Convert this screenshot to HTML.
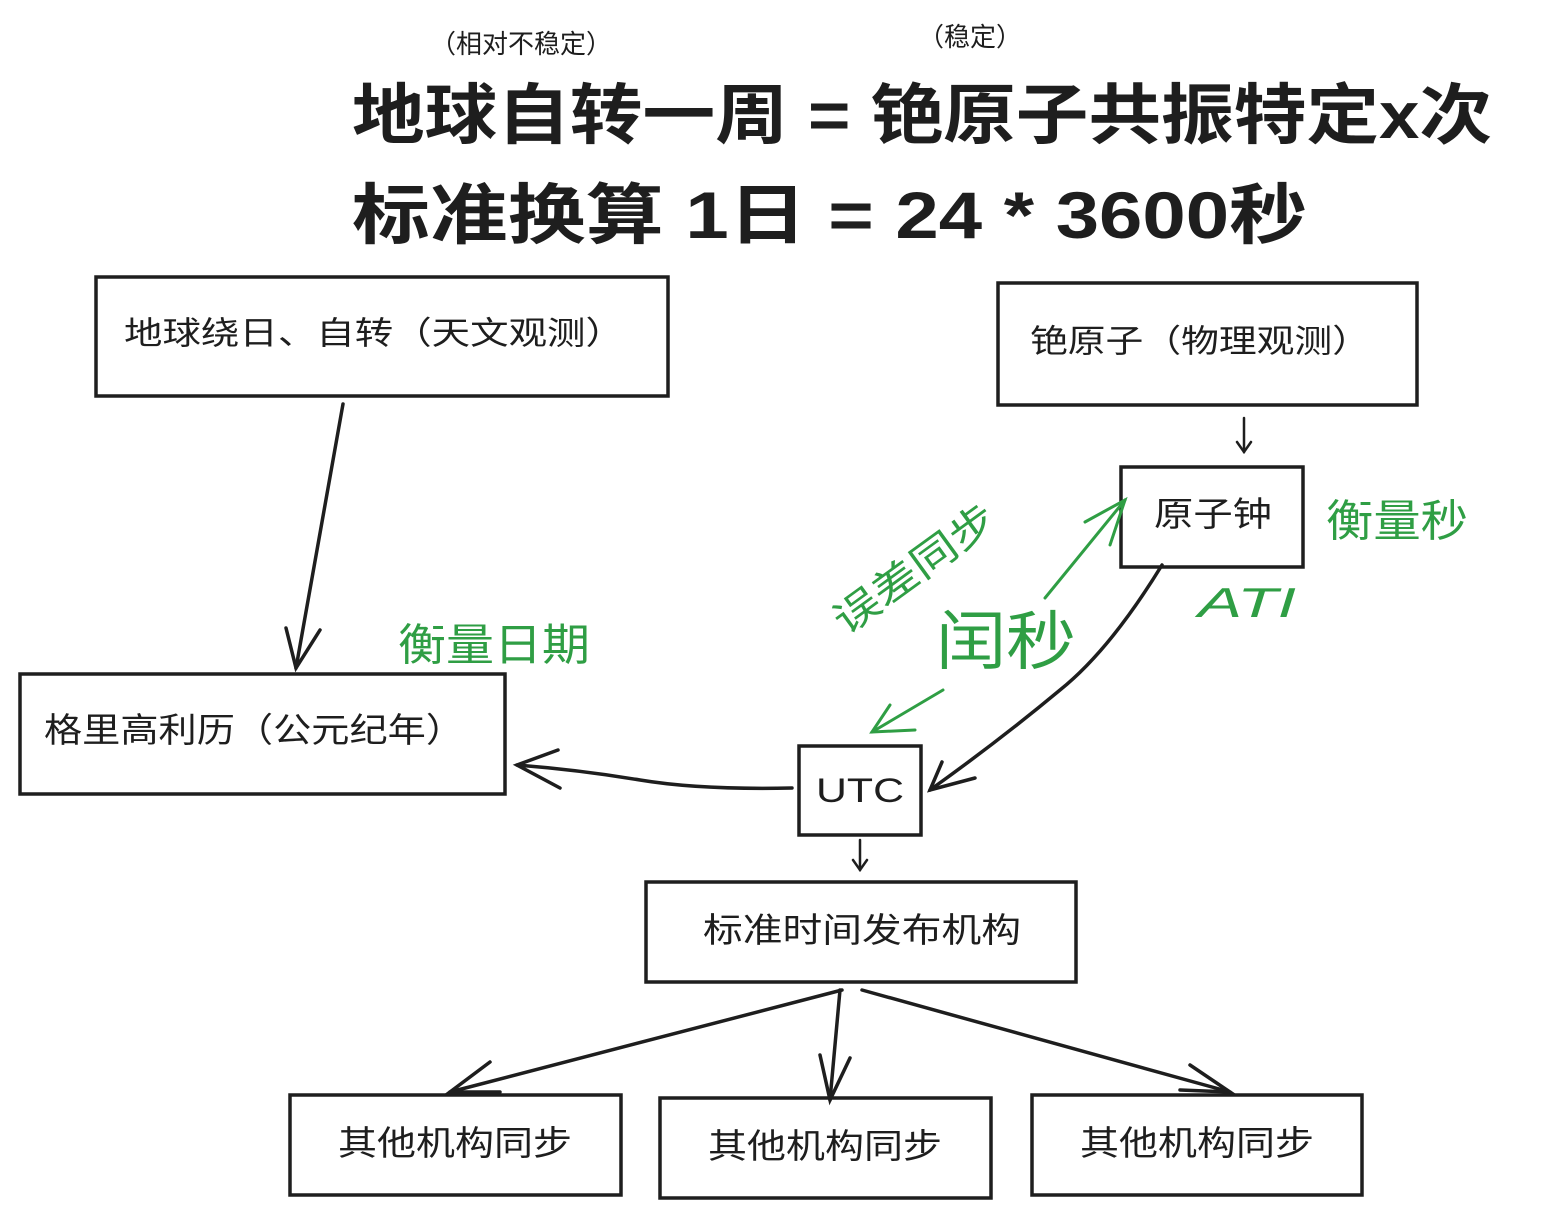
<!DOCTYPE html>
<html><head><meta charset="utf-8"><style>
html,body{margin:0;padding:0;background:#fff;}
svg{display:block;}
text{font-family:"Liberation Sans","Noto Sans CJK SC",sans-serif;}
</style></head><body>
<svg width="1544" height="1218" viewBox="0 0 1544 1218" xmlns="http://www.w3.org/2000/svg">
<g fill="none" stroke="#1e1e1e" stroke-width="3.5">
<rect x="96" y="277" width="572" height="119"/>
<rect x="998" y="283" width="419" height="122"/>
<rect x="1121" y="467" width="182" height="100"/>
<rect x="20" y="674" width="485" height="120"/>
<rect x="799" y="746" width="122" height="89"/>
<rect x="646" y="882" width="430" height="100"/>
<rect x="290" y="1095" width="331" height="100"/>
<rect x="660" y="1098" width="331" height="100"/>
<rect x="1032" y="1095" width="330" height="100"/>
</g>
<g fill="none" stroke="#1e1e1e" stroke-width="3.5" stroke-linecap="round">
<path d="M343,404 L296,668"/><path d="M286,628 L296,668 L320,630"/>
<path d="M1244,418 L1244,452" stroke-width="2.5"/><path d="M1237,442 L1244,452 L1251,442" stroke-width="2.5"/>
<path d="M1162,565 Q1110,650 1060,690 Q1000,740 930,790"/><path d="M942,762 L930,790 L975,778"/>
<path d="M792,788 Q700,790 640,780 Q580,770 517,765"/><path d="M560,788 L517,765 L558,750"/>
<path d="M860,840 L860,870" stroke-width="2.5"/><path d="M853,860 L860,870 L867,860" stroke-width="2.5"/>
<path d="M842,990 L450,1092"/><path d="M490,1062 L450,1092 L500,1092"/>
<path d="M840,990 L830,1100"/><path d="M820,1055 L830,1100 L850,1058"/>
<path d="M862,990 L1230,1092"/><path d="M1190,1065 L1230,1092 L1180,1090"/>
</g>
<g fill="none" stroke="#2f9e44" stroke-width="3" stroke-linecap="round">
<path d="M1045,598 L1125,500"/><path d="M1085,522 L1125,500 L1110,545"/>
<path d="M943,690 L872,732"/><path d="M890,705 L872,732 L915,730"/>
</g>
<g fill="#1e1e1e">
<text x="430" y="53" font-size="26">（相对不稳定）</text>
<text x="918" y="46" font-size="26">（稳定）</text>
<text x="352" y="138" font-size="66" font-weight="bold" textLength="1140" lengthAdjust="spacingAndGlyphs">地球自转一周 = 铯原子共振特定x次</text>
<text x="352" y="238" font-size="66" font-weight="bold" textLength="955" lengthAdjust="spacingAndGlyphs">标准换算 1日 = 24 * 3600秒</text>
<text x="124" y="344" font-size="32" textLength="500" lengthAdjust="spacingAndGlyphs">地球绕日、自转（天文观测）</text>
<text x="1030" y="352" font-size="32" textLength="340" lengthAdjust="spacingAndGlyphs">铯原子（物理观测）</text>
<text x="1154" y="526" font-size="34" textLength="118" lengthAdjust="spacingAndGlyphs">原子钟</text>
<text x="44" y="742" font-size="34" textLength="420" lengthAdjust="spacingAndGlyphs">格里高利历（公元纪年）</text>
<text x="816" y="802" font-size="34" textLength="88" lengthAdjust="spacingAndGlyphs">UTC</text>
<text x="703" y="942" font-size="34" textLength="318" lengthAdjust="spacingAndGlyphs">标准时间发布机构</text>
<text x="338" y="1155" font-size="34" textLength="234" lengthAdjust="spacingAndGlyphs">其他机构同步</text>
<text x="708" y="1158" font-size="34" textLength="234" lengthAdjust="spacingAndGlyphs">其他机构同步</text>
<text x="1080" y="1155" font-size="34" textLength="234" lengthAdjust="spacingAndGlyphs">其他机构同步</text>
</g>
<g fill="#2f9e44">
<text x="398" y="660" font-size="44" textLength="192" lengthAdjust="spacingAndGlyphs">衡量日期</text>
<text x="1326" y="536" font-size="44" textLength="142" lengthAdjust="spacingAndGlyphs">衡量秒</text>
<text x="1198" y="617" font-size="42" font-style="italic" textLength="98" lengthAdjust="spacingAndGlyphs">ATI</text>
<text x="936" y="664" font-size="64" textLength="140" lengthAdjust="spacingAndGlyphs">闰秒</text>
<text x="0" y="0" font-size="40" transform="translate(846,636) rotate(-36)" textLength="190" lengthAdjust="spacingAndGlyphs">误差同步</text>
</g>
</svg>
</body></html>
